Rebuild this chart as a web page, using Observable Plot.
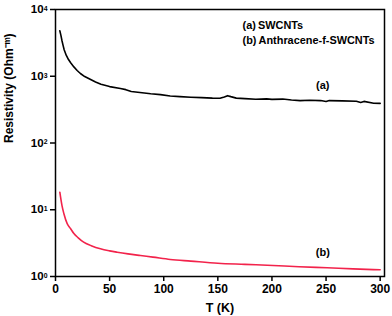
<!DOCTYPE html>
<html>
<head>
<meta charset="utf-8">
<script src="https://cdn.jsdelivr.net/npm/d3@7"></script>
<script src="https://cdn.jsdelivr.net/npm/@observablehq/plot@0.6"></script>
<style>
  html, body { margin: 0; padding: 0; background: #fff; }
  #chart svg, #chart svg text { font-family: "Liberation Sans", Arimo, Arial, sans-serif; font-weight: bold; }
</style>
</head>
<body>
<div id="chart"></div>
<script>
// Series (a) SWCNTs
const tA = [4,5,6,7,8,10,12,14,17,20,23,27,32,37,42,50,60,65,70,80,88,97,106,115,125,135,145,152,156,159,162,167,175,185,195,200,210,218,226,235,245,250,253,265,278,282,285,294,300];
const rA = [4800,4100,3400,2900,2500,2050,1780,1590,1380,1220,1100,990,900,820,760,700,655,630,590,565,546,530,505,495,485,478,470,468,490,512,495,470,462,452,458,450,455,440,432,438,432,418,432,428,422,405,420,395,392];
// Series (b) Anthracene-f-SWCNTs
const tB = [4,6,7.7,10.8,14,17,21,26,33,41.5,50,57,67,78.5,90,106,125,150,175,201,225,251,275,300];
const rB = [18.3,11.5,8.8,6.2,5.2,4.4,3.8,3.27,2.9,2.6,2.42,2.31,2.18,2.06,1.95,1.80,1.70,1.58,1.52,1.46,1.40,1.35,1.30,1.26];

const xTicks = [0,50,100,150,200,250,300];
const yTicks = [1,10,100,1000,10000];
const legendLines = ["(a)\u2009SWCNTs", "(b)\u2009Anthracene-f-SWCNTs"];
const curveLabels = [{T: 247, r: 724, text: "(a)"}, {T: 247, r: 2.29, text: "(b)"}];
const xLabel = "T (K)";
const yLabel = "Resistivity (Ohm\u207B\u1D50)";

const dataA = tA.map((t, i) => ({T: t, r: rA[i]}));
const dataB = tB.map((t, i) => ({T: t, r: rB[i]}));
const FONT = "'Liberation Sans', Arimo, Arial, sans-serif";

const chart = Plot.plot({
  width: 392,
  height: 316,
  marginLeft: 55,
  marginRight: 8,
  marginTop: 9,
  marginBottom: 40,
  style: {fontSize: "12px", fontWeight: "bold", fontFamily: FONT, color: "#000", background: "#fff"},
  x: {domain: [0, 304]},
  y: {type: "log", domain: [1, 10000]},
  marks: [
    Plot.axisX({ticks: xTicks, tickSize: 5, tickPadding: 3, label: null, strokeWidth: 1.5, fontSize: 12, fontWeight: "bold"}),
    Plot.axisY({ticks: yTicks, tickSize: 5, tickPadding: 3, label: null, strokeWidth: 1.5,
      tickFormat: d => `10^${Math.round(Math.log10(d))}`, fontSize: 11.5, fontWeight: "bold"}),
    Plot.frame({stroke: "#000", strokeWidth: 1.5}),
    Plot.line(dataA, {x: "T", y: "r", stroke: "#000", strokeWidth: 1.6}),
    Plot.line(dataB, {x: "T", y: "r", stroke: "#f2234b", strokeWidth: 1.6, curve: "monotone-x"}),
    Plot.text(curveLabels, {x: "T", y: "r", text: "text", fontSize: 11, fontWeight: "bold", fill: "#000"}),
    Plot.text([legendLines[0]], {frameAnchor: "top-left", dx: 187, dy: 11.5, text: d => d, fontSize: 10.9, fontWeight: "bold", textAnchor: "start", lineAnchor: "top"}),
    Plot.text([legendLines[1]], {frameAnchor: "top-left", dx: 187, dy: 27, text: d => d, fontSize: 10.9, fontWeight: "bold", textAnchor: "start", lineAnchor: "top"}),
    Plot.text([xLabel], {frameAnchor: "bottom", dy: 31, text: d => d, fontSize: 12.5, fontWeight: "bold", lineAnchor: "middle"}),
    Plot.text([yLabel], {frameAnchor: "left", dx: -46, rotate: -90, text: d => d, fontSize: 12, fontWeight: "bold", lineAnchor: "middle"})
  ]
});

// Superscript exponents for y tick labels
chart.querySelectorAll('g[aria-label="y-axis tick label"] text').forEach(t => {
  const s = t.textContent;
  if (s.includes("^")) {
    const [base, exp] = s.split("^");
    t.textContent = "";
    const b = document.createElementNS("http://www.w3.org/2000/svg", "tspan");
    b.textContent = base;
    const e = document.createElementNS("http://www.w3.org/2000/svg", "tspan");
    e.textContent = exp;
    e.setAttribute("dy", "-0.35em");
    e.setAttribute("font-size", "0.6em");
    t.appendChild(b);
    t.appendChild(e);
  }
});

document.getElementById("chart").appendChild(chart);
</script>
</body>
</html>
